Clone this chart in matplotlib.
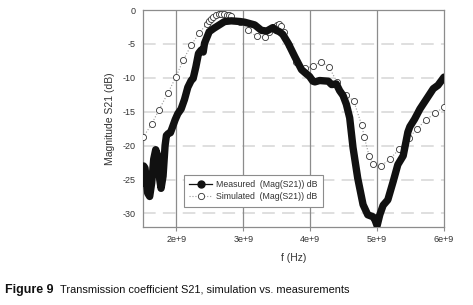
import matplotlib
matplotlib.use("Agg")
import matplotlib.pyplot as plt
from matplotlib.lines import Line2D
from matplotlib.ticker import FixedLocator
import numpy as np

plt.rcParams['font.family'] = ['Liberation Sans', 'DejaVu Sans']

# Simulated (GHz, dB)
sim_f = [1.50, 1.63, 1.74, 1.87, 1.99, 2.10, 2.22, 2.34, 2.46, 2.48, 2.52, 2.55, 2.59, 2.63,
         2.67, 2.71, 2.75, 2.79, 2.82, 2.95, 3.07, 3.20, 3.32, 3.39, 3.46, 3.50, 3.53, 3.56,
         3.61, 3.68, 3.79, 3.92, 4.04, 4.16, 4.28, 4.40, 4.53, 4.65, 4.77, 4.81, 4.88, 4.94,
         5.06, 5.20, 5.33, 5.47, 5.60, 5.73, 5.87, 6.00]
sim_db = [-18.8, -16.8, -14.7, -12.3, -9.9, -7.4, -5.2, -3.4, -2.0, -1.6, -1.3, -1.0, -0.75, -0.6,
          -0.6, -0.6, -0.7, -0.75, -0.9, -1.7, -3.0, -3.9, -4.0, -3.3, -2.5, -2.2, -2.1, -2.3,
          -3.2, -5.1, -7.7, -8.6, -8.3, -7.6, -8.4, -10.6, -12.5, -13.4, -17.0, -18.8, -21.5, -22.7,
          -23.0, -21.9, -20.5, -18.9, -17.5, -16.2, -15.2, -14.3]

# Measured (GHz, dB)
meas_f = [1.50, 1.51, 1.53, 1.57, 1.60, 1.63, 1.66, 1.69, 1.72, 1.75, 1.77, 1.80, 1.83, 1.85,
          1.88, 1.91, 1.94, 1.98, 2.02, 2.07, 2.12, 2.17, 2.22, 2.25, 2.29, 2.33, 2.37, 2.40,
          2.42, 2.49, 2.56, 2.64, 2.72, 2.82, 2.95, 3.02, 3.17, 3.27, 3.35, 3.44, 3.49, 3.54,
          3.59, 3.67, 3.77, 3.87, 3.94, 3.99, 4.04, 4.07, 4.14, 4.27, 4.32, 4.39, 4.44, 4.49,
          4.54, 4.59, 4.64, 4.71, 4.79, 4.86, 4.94, 4.97, 5.00, 5.04, 5.09, 5.16, 5.24, 5.31,
          5.39, 5.46, 5.49, 5.56, 5.64, 5.74, 5.84, 5.91, 6.00]
meas_db = [-25.5, -23.0, -23.3, -27.0, -27.5, -25.5, -22.0, -20.6, -21.5, -25.0, -26.3, -24.5, -20.0, -18.5,
           -18.2, -18.1, -17.3, -16.2, -15.3, -14.6, -13.2, -11.4, -10.4, -10.1, -8.4, -6.4, -5.9, -6.2,
           -4.9, -3.2, -2.7, -2.2, -1.7, -1.6, -1.7, -1.8, -2.2, -3.0, -3.1, -2.6, -3.0, -3.2,
           -3.6, -4.9, -6.9, -8.8, -9.4, -9.8, -10.5, -10.6, -10.4, -10.5, -11.0, -10.9, -11.9, -12.6,
           -13.9, -15.9, -20.3, -24.8, -28.7, -30.2, -30.5, -31.0, -31.8, -30.2, -28.8, -28.0, -25.3, -22.8,
           -21.5, -18.0, -17.2, -16.1, -14.6, -13.1, -11.6, -11.1, -9.9]

xticks = [2e9, 3e9, 4e9, 5e9, 6e9]
xtick_labels = ["2e+9", "3e+9", "4e+9", "5e+9", "6e+9"]
yticks = [0, -5, -10, -15, -20, -25, -30]

fig = plt.figure(figsize=(4.73, 3.05), dpi=100)
ax = fig.add_axes([143/473, 1-227/305, (444-143)/473, (227-10)/305])

sf = np.array(sim_f) * 1e9
mf = np.array(meas_f) * 1e9

# grid
for yv in yticks:
    ax.axhline(yv, color='#dcdcdc', lw=1.3, dashes=(7, 4), zorder=1)
for xv in xticks[:-1]:
    ax.axvline(xv, color='#8c8c8c', lw=0.9, zorder=1)

ax.plot(sf, sim_db, linestyle=':', color='#999999', lw=0.8, marker='o', markersize=4.4,
        markerfacecolor='white', markeredgecolor='#333333', markeredgewidth=0.6, zorder=3)
ax.plot(mf, meas_db, color='#111111', lw=5.3, solid_joinstyle='round', solid_capstyle='round', zorder=4)

ax.set_xlim(1.5e9, 6e9)
ax.set_ylim(-32, 0)
ax.xaxis.set_major_locator(FixedLocator(xticks))
ax.set_xticklabels(xtick_labels)
ax.set_yticks(yticks)
ax.set_yticklabels([str(v) for v in yticks])
ax.tick_params(axis='x', length=3, color='#8c8c8c', labelsize=6.5, pad=3, labelcolor='#333333')
ax.tick_params(axis='y', length=0, labelsize=6.5, pad=5, labelcolor='#333333')
for s in ax.spines.values():
    s.set_color('#8c8c8c')
    s.set_linewidth(0.9)

ax.set_xlabel("f (Hz)", fontsize=7.5, color='#333333', labelpad=6)
ax.set_ylabel("Magnitude S21 (dB)", fontsize=7.5, color='#333333', labelpad=6)

h1 = Line2D([], [], color='#111111', lw=0.9, marker='o', markersize=5, markerfacecolor='#111111')
h2 = Line2D([], [], color='#999999', lw=0.8, linestyle=':', marker='o', markersize=4.5,
            markerfacecolor='white', markeredgecolor='#333333', markeredgewidth=0.6)
leg = ax.legend([h1, h2], ["Measured  (Mag(S21)) dB", "Simulated  (Mag(S21)) dB"],
                loc='upper left', bbox_to_anchor=((184-143)/301, (227-175)/217),
                fontsize=6.3, frameon=True, fancybox=False, framealpha=1,
                edgecolor='#8c8c8c', handlelength=2.6, borderpad=0.6, labelspacing=0.35,
                handletextpad=0.5, borderaxespad=0)
leg.get_frame().set_linewidth(0.8)
for t in leg.get_texts():
    t.set_color('#333333')

fig.text(5/473, 1-290/305, "Figure 9", fontsize=9, fontweight='bold', va='center', ha='left', color='#111111')
fig.text(60/473, 1-290/305, "Transmission coefficient S21, simulation vs. measurements",
         fontsize=7.9, va='center', ha='left', color='#111111')

fig.savefig("out.png", dpi=100)
